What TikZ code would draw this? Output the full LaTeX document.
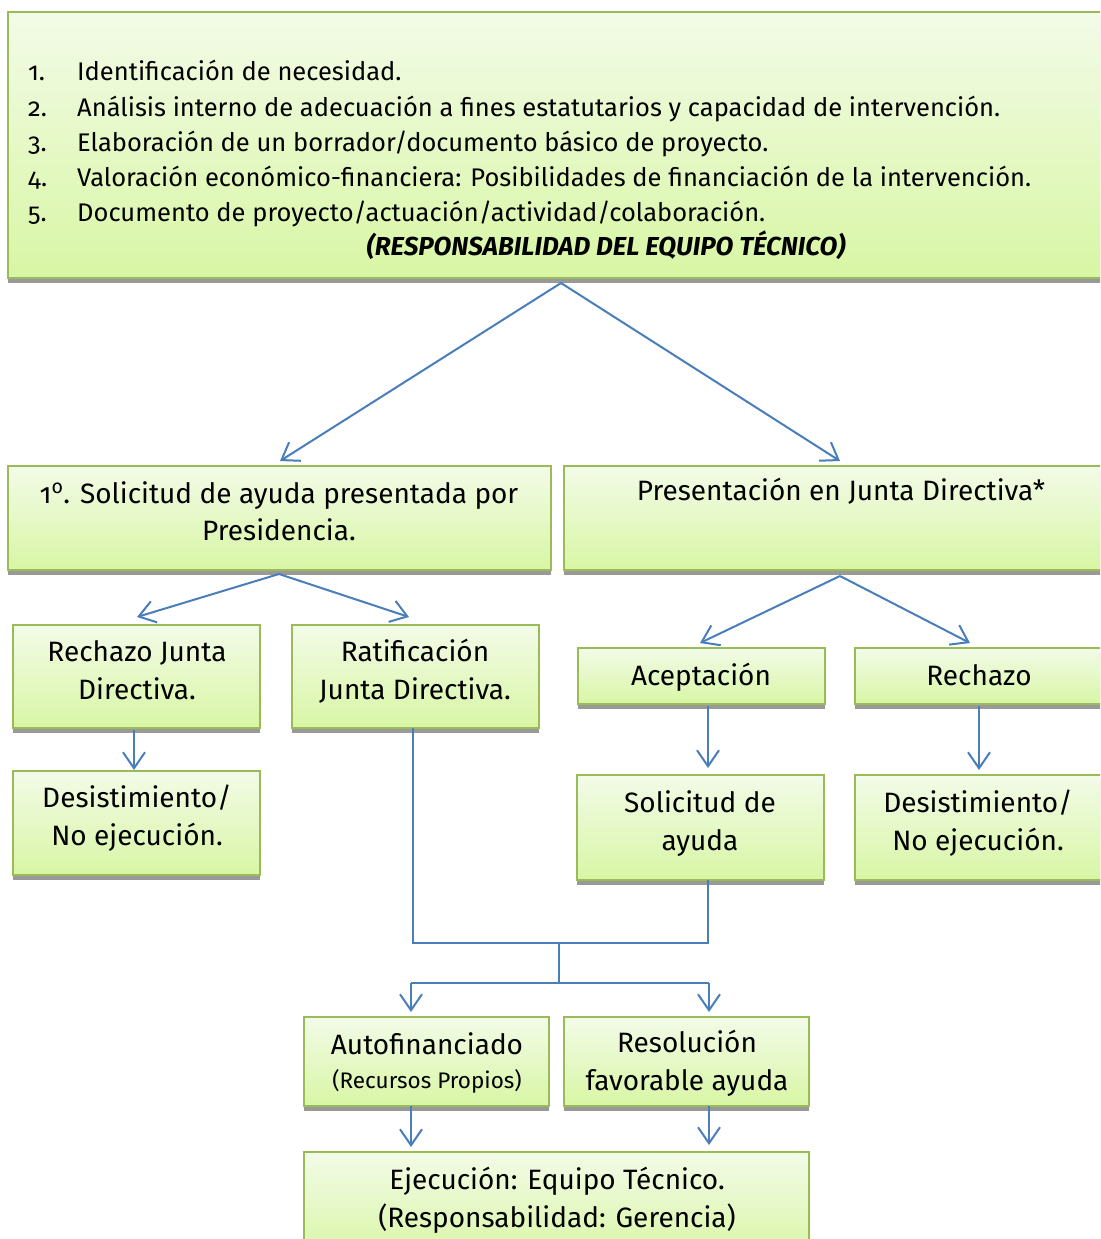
\documentclass[tikz,border=0pt]{standalone}
\usepackage{fontspec}
\setmainfont{Fira Sans}[Numbers=OldStyle]
\usetikzlibrary{arrows.meta,shadows}
\definecolor{bord}{HTML}{9BBB59}
\definecolor{gtop}{HTML}{F3FBE8}
\definecolor{gbot}{HTML}{D8F6A4}
\definecolor{arr}{HTML}{4A7EBB}
\tikzset{
  box/.style={draw=bord, line width=1.6pt, top color=gtop, bottom color=gbot,
    drop shadow={shadow xshift=0pt, shadow yshift=-4.5pt, fill=black!40, opacity=1},
    inner sep=0pt, rectangle},
  txt/.style={anchor=base, inner sep=0pt, font=\fontsize{28}{32}\selectfont},
  lst/.style={anchor=base west, inner sep=0pt, font=\fontsize{25.5}{30}\selectfont},
  con/.style={draw=arr, line width=2pt},
  arw/.style={con, -{Straight Barb[length=16pt, width=22pt, line width=2pt]}}
}
\newcommand{\bx}[5]{\node[box, minimum width=#4-#2, minimum height=#5-#3] (#1) at ({(#2+#4)/2},{(#3+#5)/2}) {};}
\begin{document}
\begin{tikzpicture}[x=1pt,y=-1pt]
\useasboundingbox (0,0) rectangle (1100,1239);
\clip (0,0) rectangle (1100,1239);
% boxes
\bx{top}{8}{12}{1110}{278}
\bx{sol}{8}{466}{551}{570}
\bx{pres}{564}{466}{1110}{570}
\bx{rjd}{13}{625}{260}{728}
\bx{rat}{292}{625}{539}{728}
\bx{acep}{578}{648}{825}{704}
\bx{rech}{855}{648}{1110}{704}
\bx{desl}{13}{771}{260}{875}
\bx{soa}{577}{775}{824}{880}
\bx{desr}{855}{775}{1110}{880}
\bx{auto}{304}{1017}{549}{1106}
\bx{reso}{564}{1017}{809}{1106}
\bx{ejec}{304}{1152}{809}{1260}
% top list
\node[lst] (n1) at (28,81) {1.};
\node[lst] (n2) at (28,116) {2.};
\node[lst] (n3) at (28,151) {3.};
\node[lst] (n4) at (28,186) {4.};
\node[lst] (n5) at (28,221) {5.};
\node[lst] (l1) at (77,81) {Identificación de necesidad.};
\node[lst] (l2) at (77,116) {Análisis interno de adecuación a fines estatutarios y capacidad de intervención.};
\node[lst] (l3) at (77,151) {Elaboración de un borrador/documento básico de proyecto.};
\node[lst] (l4) at (77,186) {Valoración económico-financiera: Posibilidades de financiación de la intervención.};
\node[lst] (l5) at (77,221) {Documento de proyecto/actuación/actividad/colaboración.};
\node[txt, font=\fontsize{26}{30}\selectfont\bfseries\itshape] (resp) at (606,255) {(RESPONSABILIDAD DEL EQUIPO TÉCNICO)};
% box texts
\node[txt] (t1a) at (279,503) {1\textsuperscript{o}. Solicitud de ayuda presentada por};
\node[txt] (t1b) at (279,540) {Presidencia.};
\node[txt] (t2) at (841,500) {Presentación en Junta Directiva*};
\node[txt] (t3a) at (137,661) {Rechazo Junta};
\node[txt] (t3b) at (137,699) {Directiva.};
\node[txt] (t4a) at (415,661) {Ratificación};
\node[txt] (t4b) at (415,699) {Junta Directiva.};
\node[txt] (t5) at (701,685) {Aceptación};
\node[txt] (t6) at (979,685) {Rechazo};
\node[txt] (t7a) at (137,807) {Desistimiento/};
\node[txt] (t7b) at (137,845) {No ejecución.};
\node[txt] (t8a) at (700,812) {Solicitud de};
\node[txt] (t8b) at (700,850) {ayuda};
\node[txt] (t9a) at (978,812) {Desistimiento/};
\node[txt] (t9b) at (978,850) {No ejecución.};
\node[txt] (t10a) at (427,1054) {Autofinanciado};
\node[txt, font=\fontsize{22.5}{26}\selectfont] (t10b) at (427,1088) {(Recursos Propios)};
\node[txt] (t11a) at (687,1052) {Resolución};
\node[txt] (t11b) at (687,1090) {favorable ayuda};
\node[txt] (t12a) at (557,1189) {Ejecución: Equipo Técnico.};
\node[txt] (t12b) at (557,1227) {(Responsabilidad: Gerencia)};
% connector coordinates
\coordinate (c0) at (561,283);
\coordinate (e0a) at (280,461);
\coordinate (e0b) at (840,461);
\coordinate (c1) at (279,574);
\coordinate (e1a) at (137,617);
\coordinate (e1b) at (409,617);
\coordinate (c2) at (840,576);
\coordinate (e2a) at (700,643);
\coordinate (e2b) at (970,643);
\coordinate (c3) at (134,730);
\coordinate (e3) at (134,770);
\coordinate (c4) at (708,706);
\coordinate (e4) at (708,768);
\coordinate (c5) at (979,706);
\coordinate (e5) at (979,770);
\coordinate (c6) at (413,728);
\coordinate (j6) at (413,943);
\coordinate (c7) at (708,880);
\coordinate (j7) at (708,943);
\coordinate (m) at (559,943);
\coordinate (m2) at (559,983);
\coordinate (ja) at (411,983);
\coordinate (jb) at (709,983);
\coordinate (ea) at (411,1012);
\coordinate (eb) at (709,1012);
\coordinate (c8) at (411,1106);
\coordinate (e8) at (411,1147);
\coordinate (c9) at (709,1106);
\coordinate (e9) at (709,1145);
% connectors
\draw[arw] (c0) -- (e0a);
\draw[arw] (c0) -- (e0b);
\draw[arw] (c1) -- (e1a);
\draw[arw] (c1) -- (e1b);
\draw[arw] (c2) -- (e2a);
\draw[arw] (c2) -- (e2b);
\draw[arw] (c3) -- (e3);
\draw[arw] (c4) -- (e4);
\draw[arw] (c5) -- (e5);
\draw[con] (c6) -- (j6) -- (j7) -- (c7);
\draw[con] (m) -- (m2);
\draw[con] (ja) -- (jb);
\draw[arw] (ja) -- (ea);
\draw[arw] (jb) -- (eb);
\draw[arw] (c8) -- (e8);
\draw[arw] (c9) -- (e9);
\end{tikzpicture}
\end{document}
